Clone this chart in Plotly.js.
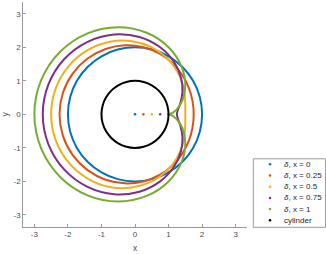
<!DOCTYPE html>
<html>
<head>
<meta charset="utf-8">
<script src="https://cdn.plot.ly/plotly-3.0.1.min.js"></script>
<style>html,body{margin:0;padding:0;background:#fff;}#plot{width:326px;height:254px;}</style>
</head>
<body>
<div id="plot"></div>
<script>
// Source positions (dots) on the x axis
const deltaX = [0, 0.25, 0.5, 0.75, 1];
const deltaY = [0, 0, 0, 0, 0];
const legendLabels = ['<i>δ</i>, x = 0', '<i>δ</i>, x = 0.25', '<i>δ</i>, x = 0.5', '<i>δ</i>, x = 0.75', '<i>δ</i>, x = 1', 'cylinder'];
const tickVals = [-3, -2, -1, 0, 1, 2, 3];
const tickText = ['-3', '-2', '-1', '0', '1', '2', '3'];

const curveX0 = [2, 1.932, 1.732, 1.414, 1, 0.518, 0, -0.518, -1, -1.414, -1.732, -1.932, -2, -1.932, -1.732, -1.414, -1, -0.518, 0, 0.518, 1, 1.414, 1.732, 1.932, 2];
const curveY0 = [0, 0.518, 1, 1.414, 1.732, 1.932, 2, 1.932, 1.732, 1.414, 1, 0.518, 0, -0.518, -1, -1.414, -1.732, -1.932, -2, -1.932, -1.732, -1.414, -1, -0.518, 0];
const curveX1 = [1.75, 1.715, 1.607, 1.414, 1.125, 0.734, 0.25, -0.301, -0.875, -1.414, -1.857, -2.148, -2.25, -2.148, -1.857, -1.414, -0.875, -0.301, 0.25, 0.734, 1.125, 1.414, 1.607, 1.715, 1.75];
const curveY1 = [0, 0.393, 0.784, 1.164, 1.516, 1.807, 2, 2.057, 1.949, 1.664, 1.217, 0.643, 0, -0.643, -1.217, -1.664, -1.949, -2.057, -2, -1.807, -1.516, -1.164, -0.784, -0.393, 0];
const curveX2 = [1.5, 1.499, 1.482, 1.414, 1.25, 0.951, 0.5, -0.085, -0.75, -1.414, -1.982, -2.365, -2.5, -2.365, -1.982, -1.414, -0.75, -0.085, 0.5, 0.951, 1.25, 1.414, 1.482, 1.499, 1.5];
const curveY2 = [0, 0.268, 0.567, 0.914, 1.299, 1.682, 2, 2.182, 2.165, 1.914, 1.433, 0.768, 0, -0.768, -1.433, -1.914, -2.165, -2.182, -2, -1.682, -1.299, -0.914, -0.567, -0.268, 0];
const curveX3 = [1.25, 1.282, 1.357, 1.414, 1.375, 1.167, 0.75, 0.132, -0.625, -1.414, -2.107, -2.581, -2.75, -2.581, -2.107, -1.414, -0.625, 0.132, 0.75, 1.167, 1.375, 1.414, 1.357, 1.282, 1.25];
const curveY3 = [0, 0.143, 0.351, 0.664, 1.083, 1.557, 2, 2.307, 2.382, 2.164, 1.65, 0.893, 0, -0.893, -1.65, -2.164, -2.382, -2.307, -2, -1.557, -1.083, -0.664, -0.351, -0.143, 0];
const curveX4 = [1, 1.066, 1.232, 1.414, 1.5, 1.384, 1, 0.348, -0.5, -1.414, -2.232, -2.798, -3, -2.798, -2.232, -1.414, -0.5, 0.348, 1, 1.384, 1.5, 1.414, 1.232, 1.066, 1];
const curveY4 = [0, 0.018, 0.134, 0.414, 0.866, 1.432, 2, 2.432, 2.598, 2.414, 1.866, 1.018, 0, -1.018, -1.866, -2.414, -2.598, -2.432, -2, -1.432, -0.866, -0.414, -0.134, -0.018, 0];
const cylX = [1, 0.966, 0.866, 0.707, 0.5, 0.259, 0, -0.259, -0.5, -0.707, -0.866, -0.966, -1, -0.966, -0.866, -0.707, -0.5, -0.259, 0, 0.259, 0.5, 0.707, 0.866, 0.966, 1];
const cylY = [0, 0.259, 0.5, 0.707, 0.866, 0.966, 1, 0.966, 0.866, 0.707, 0.5, 0.259, 0, -0.259, -0.5, -0.707, -0.866, -0.966, -1, -0.966, -0.866, -0.707, -0.5, -0.259, 0];

const curvesX = [curveX0, curveX1, curveX2, curveX3, curveX4];
const curvesY = [curveY0, curveY1, curveY2, curveY3, curveY4];
const colors = ['#0072BD', '#D95319', '#EDB120', '#7E2F8E', '#77AC30'];
const legendColors = colors.concat(['#000000']);

const traces = [];
// source dots
for (let i = 0; i < deltaX.length; i++) {
  traces.push({x: [deltaX[i]], y: [deltaY[i]], type: 'scatter', mode: 'markers',
    marker: {color: colors[i], size: 2.5}, showlegend: false, hoverinfo: 'skip'});
}
// curves
for (let i = 0; i < curvesX.length; i++) {
  traces.push({x: curvesX[i], y: curvesY[i], type: 'scatter', mode: 'lines',
    line: {color: colors[i], width: 2, shape: 'spline', smoothing: 1}, showlegend: false, hoverinfo: 'skip'});
}
traces.push({x: cylX, y: cylY, type: 'scatter', mode: 'lines',
  line: {color: '#000', width: 2, shape: 'spline', smoothing: 1}, showlegend: false, hoverinfo: 'skip'});

// hand-made legend on a helper axis (pixel units)
const rowY = legendLabels.map((_, i) => 164.3 + 11.2 * i);
traces.push({x: legendLabels.map(() => 270), y: rowY, xaxis: 'x2', yaxis: 'y2', type: 'scatter', mode: 'markers',
  marker: {color: legendColors, size: 2.5}, showlegend: false, hoverinfo: 'skip'});

const annotations = legendLabels.map((t, i) => ({
  text: t, x: 282, y: rowY[i], xref: 'x2', yref: 'y2', xanchor: 'left', yanchor: 'middle',
  showarrow: false, font: {family: 'Liberation Sans, Arial, sans-serif', size: 8, color: '#262626'}
}));

const W = 326, H = 254;
const axisCommon = {
  showgrid: false, zeroline: false, showline: true, linecolor: '#9a9a9a', linewidth: 1,
  ticks: 'inside', ticklen: 3, tickcolor: '#9a9a9a', tickwidth: 1,
  tickvals: tickVals, ticktext: tickText,
  tickfont: {family: 'Liberation Sans, Arial, sans-serif', size: 8, color: '#4d4d4d'},
  fixedrange: true
};

const layout = {
  width: W, height: H,
  margin: {l: 0, r: 0, t: 0, b: 0},
  paper_bgcolor: '#fff', plot_bgcolor: '#fff',
  showlegend: false,
  xaxis: Object.assign({}, axisCommon, {
    domain: [23.3 / W, 246.7 / W], range: [-3.33, 3.33], anchor: 'y',
    title: {text: 'x', font: {family: 'Liberation Sans, Arial, sans-serif', size: 8.5, color: '#4d4d4d'}, standoff: 6}
  }),
  yaxis: Object.assign({}, axisCommon, {
    domain: [1 - 226.7 / H, 1 - 2 / H], range: [-3.35, 3.35], anchor: 'x',
    title: {text: 'y', font: {family: 'Liberation Sans, Arial, sans-serif', size: 8.5, color: '#4d4d4d'}, standoff: 4}
  }),
  xaxis2: {domain: [253.3 / W, 325.5 / W], range: [253.3, 325.5], visible: false, anchor: 'y2', fixedrange: true},
  yaxis2: {domain: [1 - 227.3 / H, 1 - 158.8 / H], range: [227.3, 158.8], visible: false, anchor: 'x2', fixedrange: true},
  shapes: [{type: 'rect', xref: 'x2 domain', yref: 'y2 domain', x0: 0, x1: 1, y0: 0, y1: 1,
    line: {color: '#9a9a9a', width: 1}, fillcolor: 'rgba(255,255,255,0)'}],
  annotations: annotations
};

Plotly.newPlot('plot', traces, layout, {staticPlot: true, displayModeBar: false});
</script>
</body>
</html>
